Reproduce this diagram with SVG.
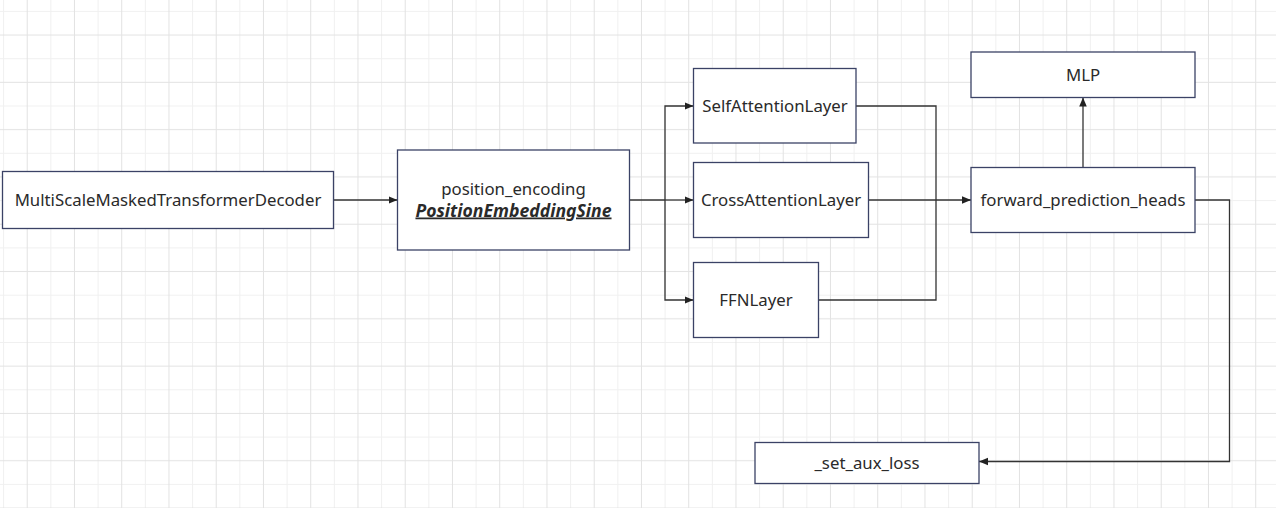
<svg xmlns="http://www.w3.org/2000/svg" width="1276" height="508" viewBox="0 0 1276 508">
  <defs>
    <pattern id="grid" patternUnits="userSpaceOnUse" x="3.1" y="10.9" width="47.25" height="47.3">
      <rect x="0" y="0" width="1" height="47.3" fill="#f0f0f0"/>
      <rect x="0" y="0" width="47.25" height="1" fill="#f0f0f0"/>
      <rect x="23.6" y="0" width="1" height="47.3" fill="#e2e2e2"/>
      <rect x="0" y="23.6" width="47.25" height="1" fill="#e2e2e2"/>
    </pattern>
    <marker id="arrow" viewBox="0 0 10 10" refX="10" refY="5" markerWidth="9" markerHeight="9" markerUnits="userSpaceOnUse" orient="auto">
      <path d="M0,0.8 L10,5 L0,9.2 Z" fill="#222222"/>
    </marker>
    <style>
      .node rect { fill: #ffffff; stroke: #3b4266; stroke-width: 1.3; }
      .node text { font-family: "Noto Sans", "Open Sans", sans-serif; font-size: 16.8px; fill: #2a2a2a; text-anchor: middle; }
      .node text.em { font-size: 17.6px; font-weight: bold; font-style: italic; text-decoration: underline; }
      #connectors path { fill: none; stroke: #333333; stroke-width: 1.3; }
      #connectors path.arr { marker-end: url(#arrow); }
    </style>
  </defs>

  <rect x="0" y="0" width="1276" height="508" fill="#ffffff"/>
  <rect x="0" y="0" width="1276" height="508" fill="url(#grid)"/>

  <g id="connectors">
    <path class="arr" d="M333.5,200 L397.5,200"/>
    <path d="M629.5,200 L665,200"/>
    <path class="arr" d="M665,200 L665,106 L693.5,106"/>
    <path class="arr" d="M665,200 L693.5,200"/>
    <path class="arr" d="M665,200 L665,300 L693.5,300"/>
    <path d="M856,106 L936,106 L936,300 L818.5,300"/>
    <path class="arr" d="M868.5,200 L971,200"/>
    <path class="arr" d="M1083,167.5 L1083,97.5"/>
    <path class="arr" d="M1195,200 L1229.5,200 L1229.5,461.5 L979,461.5"/>
  </g>

  <g id="node-decoder" class="node">
    <rect x="2.5" y="171.5" width="331" height="57"/>
    <text x="168" y="206">MultiScaleMaskedTransformerDecoder</text>
  </g>
  <g id="node-position-encoding" class="node">
    <rect x="397.5" y="150" width="232" height="100"/>
    <text x="513.5" y="194.5">position_encoding</text>
    <text class="em" x="513.5" y="216.5">PositionEmbeddingSine</text>
  </g>
  <g id="node-self-attention" class="node">
    <rect x="693.5" y="68.5" width="162.5" height="74.5"/>
    <text x="775" y="111.5">SelfAttentionLayer</text>
  </g>
  <g id="node-cross-attention" class="node">
    <rect x="693.5" y="162.5" width="175" height="75"/>
    <text x="781" y="206">CrossAttentionLayer</text>
  </g>
  <g id="node-ffn" class="node">
    <rect x="693.5" y="262.5" width="125" height="75"/>
    <text x="756" y="306">FFNLayer</text>
  </g>
  <g id="node-mlp" class="node">
    <rect x="971" y="52" width="224" height="45.5"/>
    <text x="1083" y="81">MLP</text>
  </g>
  <g id="node-forward-prediction-heads" class="node">
    <rect x="971" y="167.5" width="224" height="65"/>
    <text x="1083" y="206">forward_prediction_heads</text>
  </g>
  <g id="node-set-aux-loss" class="node">
    <rect x="755" y="442.5" width="224" height="41"/>
    <text x="867" y="469">_set_aux_loss</text>
  </g>
</svg>
